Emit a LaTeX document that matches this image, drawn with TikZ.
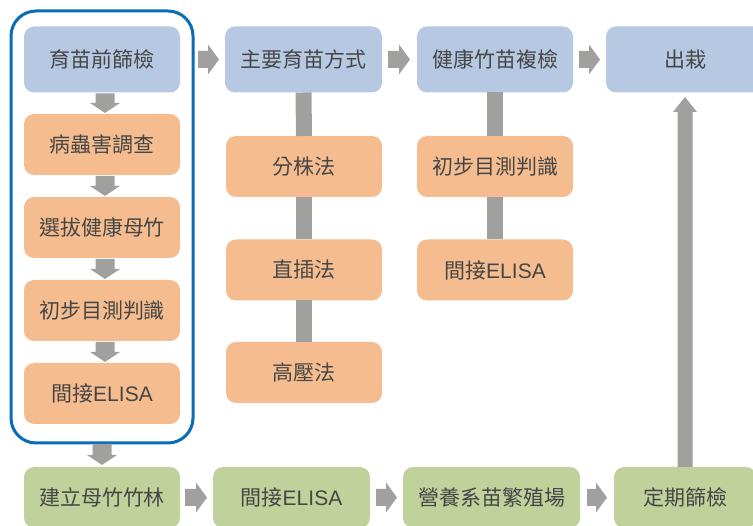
\documentclass[tikz,border=0pt]{standalone}
\usepackage{fontspec}
\setmainfont{Noto Sans CJK TC}
\newfontfamily\latfont{Liberation Sans}
\usetikzlibrary{calc}
\definecolor{boxblue}{RGB}{183,201,226}
\definecolor{boxorange}{RGB}{245,189,143}
\definecolor{boxgreen}{RGB}{193,209,155}
\definecolor{arrowgray}{RGB}{160,161,159}
\definecolor{framblue}{RGB}{8,110,185}
\definecolor{txtgray}{RGB}{70,70,70}
\tikzset{
  box/.style={rectangle, rounded corners=10pt, minimum width=156pt, minimum height=61pt,
    inner sep=0pt, outer sep=0pt, text=txtgray, font=\fontsize{21}{25}\selectfont},
  bluebox/.style={box, fill=boxblue, minimum height=66pt},
  orangebox/.style={box, fill=boxorange},
  greenbox/.style={box, fill=boxgreen},
  bar/.style={draw=arrowgray, line width=16pt},
  framebox/.style={rectangle, draw=framblue, line width=3pt, rounded corners=25pt,
    minimum width=182pt, minimum height=432pt, inner sep=0pt, outer sep=0pt},
}
\newcommand\rightblock[2]{%
  \fill[arrowgray] let \p1=#1, \p2=#2 in
    (\x1,\y1+8.5pt) -- (\x2-11pt,\y1+8.5pt) -- (\x2-11pt,\y1+15pt) -- (\x2,\y1)
    -- (\x2-11pt,\y1-15pt) -- (\x2-11pt,\y1-8.5pt) -- (\x1,\y1-8.5pt) -- cycle;}
\newcommand\downblock[2]{%
  \fill[arrowgray] let \p1=#1, \p2=#2 in
    (\x1-9.5pt,\y1) -- (\x1-9.5pt,\y2+10pt) -- (\x1-15pt,\y2+10pt) -- (\x1,\y2)
    -- (\x1+15pt,\y2+10pt) -- (\x1+9.5pt,\y2+10pt) -- (\x1+9.5pt,\y1) -- cycle;}
\newcommand\upblock[2]{%
  \fill[arrowgray] let \p1=#1, \p2=#2 in
    (\x1-7.5pt,\y1) -- (\x1-7.5pt,\y2-15pt) -- (\x1-12pt,\y2-15pt) -- (\x1,\y2)
    -- (\x1+12pt,\y2-15pt) -- (\x1+7.5pt,\y2-15pt) -- (\x1+7.5pt,\y1) -- cycle;}
\begin{document}
\begin{tikzpicture}[x=1pt,y=-1pt]
\useasboundingbox (0,0) rectangle (753,526);
\clip (0,0) rectangle (753,526);
% left column
\node[framebox] (frame) at (102,227) {};
\node[bluebox] (a1) at (102,59.5) {育苗前篩檢};
\node[orangebox] (a2) at (102,144.5) {病蟲害調查};
\node[orangebox] (a3) at (102,227.5) {選拔健康母竹};
\node[orangebox] (a4) at (102,310.5) {初步目測判識};
\node[orangebox] (a5) at (102,393.5) {間接{\latfont ELISA}};
% second column
\node[bluebox, minimum width=157pt] (b0) at (303.5,59.5) {主要育苗方式};
\node[orangebox] (b1) at (304,166.5) {分株法};
\node[orangebox] (b2) at (304,270) {直插法};
\node[orangebox] (b3) at (304,372.5) {高壓法};
% third column
\node[bluebox] (c0) at (495,59.5) {健康竹苗複檢};
\node[orangebox] (c1) at (495,166.5) {初步目測判識};
\node[orangebox] (c2) at (495,270) {間接{\latfont ELISA}};
% fourth column
\node[bluebox, minimum width=158pt] (d0) at (685,59.5) {出栽};
% bottom row
\node[greenbox] (e1) at (102,497.5) {建立母竹竹林};
\node[greenbox, minimum width=157pt] (e2) at (291.5,497.5) {間接{\latfont ELISA}};
\node[greenbox, minimum width=177pt] (e3) at (491.5,497.5) {營養系苗繁殖場};
\node[greenbox, minimum width=142pt] (e4) at (685,497.5) {定期篩檢};
% vertical bars
\draw[bar] (b0.south) -- (b1.north);
\draw[bar] (b1.south) -- (b2.north);
\draw[bar] (b2.south) -- (b3.north);
\draw[bar] (c0.south) -- (c1.north);
\draw[bar] (c1.south) -- (c2.north);
% down arrows in left column
\downblock{($(a1.south)+(3pt,-1pt)$)}{($(a2.north)+(3pt,1pt)$)}
\downblock{($(a2.south)+(3pt,-1pt)$)}{($(a3.north)+(3pt,1pt)$)}
\downblock{($(a3.south)+(3pt,-1pt)$)}{($(a4.north)+(3pt,1pt)$)}
\downblock{($(a4.south)+(3pt,-1pt)$)}{($(a5.north)+(3pt,1pt)$)}
\downblock{($(frame.south)+(0pt,-1pt)$)}{($(e1.north)+(0pt,2pt)$)}
% right arrows, top row
\rightblock{($(frame.east|-a1.east)+(5pt,0pt)$)}{($(b0.west)+(-6pt,0pt)$)}
\rightblock{($(b0.east)+(6pt,0pt)$)}{($(c0.west)+(-7pt,0pt)$)}
\rightblock{($(c0.east)+(6pt,0pt)$)}{($(d0.west)+(-6pt,0pt)$)}
% right arrows, bottom row
\rightblock{($(e1.east)+(5pt,0pt)$)}{($(e2.west)+(-6pt,0pt)$)}
\rightblock{($(e2.east)+(6pt,0pt)$)}{($(e3.west)+(-6pt,0pt)$)}
\rightblock{($(e3.east)+(7pt,0pt)$)}{($(e4.west)+(-7pt,0pt)$)}
% up arrow
\upblock{(e4.north)}{($(d0.south)+(0pt,-4.5pt)$)}
\end{tikzpicture}
\end{document}
